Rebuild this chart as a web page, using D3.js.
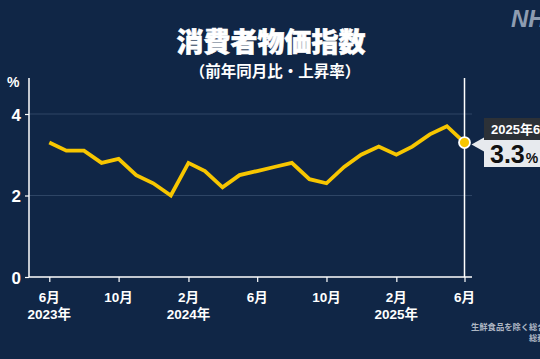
<!DOCTYPE html>
<html><head><meta charset="utf-8">
<script src="https://cdn.jsdelivr.net/npm/d3@7"></script>
<style>
html,body{margin:0;padding:0;background:#102646;}
svg{display:block;}
</style></head>
<body>
<svg id="c" width="540" height="359"></svg>
<script>
const months = ["2023-06","2023-07","2023-08","2023-09","2023-10","2023-11","2023-12",
"2024-01","2024-02","2024-03","2024-04","2024-05","2024-06","2024-07","2024-08","2024-09","2024-10","2024-11","2024-12",
"2025-01","2025-02","2025-03","2025-04","2025-05","2025-06"];
const values = [3.3,3.1,3.1,2.8,2.9,2.5,2.3,
2.0,2.8,2.6,2.2,2.5,2.6,2.7,2.8,2.4,2.3,2.7,3.0,
3.2,3.0,3.2,3.5,3.7,3.3];
const yTicks = [0,2,4];
const xTickMonths = ["2023-06","2023-10","2024-02","2024-06","2024-10","2025-02","2025-06"];
const xTickMonthLabels = ["6月","10月","2月","6月","10月","2月","6月"];
const xTickYearLabels = ["2023年","","2024年","","","2025年",""];

const FONT = "'Liberation Sans','Noto Sans CJK JP',sans-serif";
const svg = d3.select("#c");
const parse = d3.timeParse("%Y-%m");
const data = months.map((m,i)=>({d:parse(m), v:values[i]}));

const x = d3.scaleTime().domain([parse("2023-06"), parse("2025-06")]).range([49.3, 464.5]);
const y = d3.scaleLinear().domain([0,4]).range([277,114]);
const axisLeft = 29, axisRight = 472, axisTop = 78;

// title
svg.append("text").attr("x",271).attr("y",52).attr("text-anchor","middle")
  .attr("fill","#fff").attr("font-family",FONT).attr("font-weight","900").attr("font-size",27)
  .attr("stroke","#fff").attr("stroke-width",0.6)
  .text("消費者物価指数");
svg.append("text").attr("x",275).attr("y",77).attr("text-anchor","middle")
  .attr("fill","#fff").attr("font-family",FONT).attr("font-weight","bold").attr("font-size",15.5)
  .text("（前年同月比・上昇率）");

// logo
svg.append("text").attr("x",511).attr("y",27).attr("fill","#8e9cb1")
  .attr("font-family","'Liberation Sans',sans-serif").attr("font-weight","bold").attr("font-style","italic")
  .attr("font-size",24).text("NHK");

// grid
svg.append("g").selectAll("line").data(yTicks.filter(t=>t>0)).join("line")
  .attr("x1",axisLeft).attr("x2",axisRight).attr("y1",d=>y(d)).attr("y2",d=>y(d))
  .attr("stroke","#2e4565").attr("stroke-width",1);

// y axis
const gy = svg.append("g").attr("transform",`translate(${axisLeft},0)`)
  .call(d3.axisLeft(y).tickValues(yTicks).tickSize(4).tickFormat(d3.format("d")));
gy.select(".domain").remove();
gy.selectAll(".tick line").attr("stroke","#fff").attr("stroke-width",1.2);
gy.selectAll(".tick text").attr("fill","#fff").attr("font-family",FONT).attr("font-weight","bold")
  .attr("font-size",17).attr("x",-8).attr("dy","0.36em");
svg.append("line").attr("x1",axisLeft).attr("x2",axisLeft).attr("y1",axisTop).attr("y2",277)
  .attr("stroke","#fff").attr("stroke-width",1.5);
svg.append("text").attr("x",7).attr("y",87).attr("fill","#fff").attr("font-family",FONT)
  .attr("font-weight","bold").attr("font-size",14).text("%");

// x axis
const gx = svg.append("g").attr("transform","translate(0,277)")
  .call(d3.axisBottom(x).tickValues(xTickMonths.map(parse)).tickSize(5).tickFormat(""));
gx.select(".domain").remove();
gx.selectAll(".tick line").attr("stroke","#fff").attr("stroke-width",1.2);
svg.append("line").attr("x1",axisLeft).attr("x2",axisRight).attr("y1",277).attr("y2",277)
  .attr("stroke","#fff").attr("stroke-width",1.5);
const xl = svg.append("g");
xTickMonths.forEach((m,i)=>{
  const t = xl.append("text").attr("x",x(parse(m))).attr("text-anchor","middle")
    .attr("fill","#fff").attr("font-family",FONT).attr("font-weight","bold").attr("font-size",13.5);
  t.append("tspan").attr("x",x(parse(m))).attr("y",302).text(xTickMonthLabels[i]);
  if(xTickYearLabels[i]) t.append("tspan").attr("x",x(parse(m))).attr("y",319).text(xTickYearLabels[i]);
});

// cursor line
const last = data[data.length-1];
svg.append("line").attr("x1",x(last.d)).attr("x2",x(last.d)).attr("y1",axisTop).attr("y2",277)
  .attr("stroke","#fff").attr("stroke-width",1.5);

// data line
svg.append("path").datum(data)
  .attr("d",d3.line().x(d=>x(d.d)).y(d=>y(d.v)))
  .attr("fill","none").attr("stroke","#f7c600").attr("stroke-width",3.8)
  .attr("stroke-linejoin","miter").attr("stroke-linecap","butt");

svg.append("circle").attr("cx",x(last.d)).attr("cy",y(last.v)).attr("r",5.5)
  .attr("fill","#f7c600").attr("stroke","#fff").attr("stroke-width",1.8);

// tooltip
const ty = y(last.v);
svg.append("path").attr("d",`M${x(last.d)+7},${ty+2} L484,${ty-5} L484,${ty+9} Z`).attr("fill","#e7eaee");
svg.append("rect").attr("x",484).attr("y",118).attr("width",70).attr("height",22).attr("fill","#2c3137");
svg.append("rect").attr("x",484).attr("y",140).attr("width",70).attr("height",27).attr("fill","#e7eaee");
svg.append("text").attr("x",491).attr("y",134).attr("fill","#fff").attr("font-family",FONT)
  .attr("font-weight","bold").attr("font-size",13).text("2025年6月");
const vt = svg.append("text").attr("x",490).attr("y",163).attr("fill","#111").attr("font-family",FONT)
  .attr("font-weight","bold");
vt.append("tspan").attr("font-size",25).text(d3.format(".1f")(last.v));
vt.append("tspan").attr("font-size",14).attr("dx",1).text("%");

// note
svg.append("text").attr("x",471).attr("y",330).attr("fill","#aeb7c4").attr("font-family",FONT)
  .attr("font-weight","bold").attr("font-size",8.3).text("生鮮食品を除く総合指数");
svg.append("text").attr("x",529).attr("y",341).attr("fill","#aeb7c4").attr("font-family",FONT)
  .attr("font-weight","bold").attr("font-size",8.3).text("総務省");
</script>
</body></html>
